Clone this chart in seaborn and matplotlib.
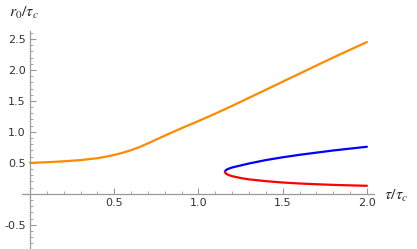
import numpy as np
import pandas as pd
import seaborn as sns
import matplotlib.pyplot as plt
from matplotlib.ticker import MultipleLocator

# values
orange_x = [0.0, 0.1, 0.2, 0.3, 0.4, 0.45, 0.5, 0.55, 0.6, 0.65, 0.7, 0.75, 0.8, 0.85, 0.9, 0.95,
            1.0, 1.1, 1.2, 1.4, 1.6, 1.8, 2.0]
orange_y = [0.50, 0.51, 0.525, 0.545, 0.575, 0.60, 0.628, 0.663, 0.705, 0.755, 0.815, 0.877, 0.94,
            1.0, 1.06, 1.118, 1.175, 1.295, 1.42, 1.68, 1.94, 2.20, 2.45]

blue_x = [1.157, 1.159, 1.164, 1.174, 1.188, 1.206, 1.23, 1.266, 1.3, 1.4, 1.5, 1.6, 1.7, 1.8, 1.9, 2.0]
blue_y = [0.355, 0.37, 0.385, 0.40, 0.415, 0.43, 0.445, 0.468, 0.49, 0.545, 0.59, 0.63, 0.665, 0.70, 0.73, 0.76]

red_x = [1.157, 1.159, 1.164, 1.174, 1.188, 1.206, 1.23, 1.266, 1.3, 1.4, 1.5, 1.6, 1.7, 1.8, 1.9, 2.0]
red_y = [0.355, 0.34, 0.325, 0.31, 0.295, 0.281, 0.267, 0.248, 0.234, 0.205, 0.183, 0.167, 0.155, 0.145, 0.137, 0.13]

sns.set_style("white")
plt.rcParams['mathtext.fontset'] = 'stix'

fig = plt.figure(figsize=(4.17, 2.49), dpi=100)
ax = fig.add_axes([0.052, 0.0, 0.844, 0.876])

df = pd.concat([
    pd.DataFrame({'x': orange_x, 'y': orange_y, 's': 'orange'}),
    pd.DataFrame({'x': blue_x, 'y': blue_y, 's': 'blue'}),
    pd.DataFrame({'x': red_x, 'y': red_y, 's': 'red'}),
])
sns.lineplot(data=df, x='x', y='y', hue='s', estimator=None, sort=False,
             palette={'orange': '#ff8a00', 'blue': '#0000ff', 'red': '#ff0000'},
             linewidth=1.6, legend=False, ax=ax)

ax.set_xlim(-0.05, 2.04)
ax.set_ylim(-0.89, 2.63)
ax.set_xlabel('')
ax.set_ylabel('')

for s in ['top', 'right']:
    ax.spines[s].set_visible(False)
ax.spines['left'].set_position(('data', 0))
ax.spines['bottom'].set_position(('data', 0))
for s in ['left', 'bottom']:
    ax.spines[s].set_color('#9a9a9a')
    ax.spines[s].set_linewidth(0.9)

ax.set_xticks([0.5, 1.0, 1.5, 2.0])
ax.set_xticklabels(['0.5', '1.0', '1.5', '2.0'])
ax.set_yticks([-0.5, 0.5, 1.0, 1.5, 2.0, 2.5])
ax.set_yticklabels(['-0.5', '0.5', '1.0', '1.5', '2.0', '2.5'])
ax.xaxis.set_minor_locator(MultipleLocator(0.1))
ax.yaxis.set_minor_locator(MultipleLocator(0.1))
ax.tick_params(which='major', direction='in', length=4, width=0.8, color='#9a9a9a',
               labelsize=8, labelcolor='#333333', pad=3,
               bottom=True, left=True)
ax.tick_params(which='minor', direction='in', length=2.2, width=0.6, color='#9a9a9a',
               bottom=True, left=True)

fig.text(0.022, 0.95, r'$r_0/\tau_c$', fontsize=11.5, ha='left', va='center')
fig.text(0.922, 0.215, r'$\tau/\tau_c$', fontsize=11.5, ha='left', va='center')

fig.savefig('out.png', dpi=100)
